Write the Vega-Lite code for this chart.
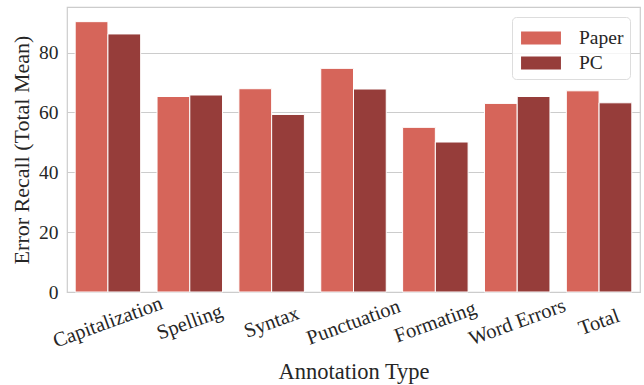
{
  "$schema": "https://vega.github.io/schema/vega-lite/v6.json",
  "width": 573,
  "height": 285,
  "autosize": {"type": "none"},
  "padding": {"left": 67, "top": 7, "right": 4, "bottom": 93},
  "background": "white",
  "config": {
    "font": "Liberation Serif",
    "view": {"stroke": "#cccccc", "strokeWidth": 1.2},
    "axis": {"labelColor": "#262626", "titleColor": "#262626", "titleFontWeight": "normal"}
  },
  "data": {
    "values": [
      {"type": "Capitalization", "medium": "Paper", "value": 90.3},
      {"type": "Capitalization", "medium": "PC", "value": 86.2},
      {"type": "Spelling", "medium": "Paper", "value": 65.3},
      {"type": "Spelling", "medium": "PC", "value": 65.8},
      {"type": "Syntax", "medium": "Paper", "value": 67.9},
      {"type": "Syntax", "medium": "PC", "value": 59.3},
      {"type": "Punctuation", "medium": "Paper", "value": 74.7},
      {"type": "Punctuation", "medium": "PC", "value": 67.8},
      {"type": "Formating", "medium": "Paper", "value": 55.0},
      {"type": "Formating", "medium": "PC", "value": 50.1},
      {"type": "Word Errors", "medium": "Paper", "value": 63.0},
      {"type": "Word Errors", "medium": "PC", "value": 65.3},
      {"type": "Total", "medium": "Paper", "value": 67.2},
      {"type": "Total", "medium": "PC", "value": 63.2}
    ]
  },
  "mark": {"type": "bar", "stroke": "white", "strokeWidth": 1},
  "encoding": {
    "x": {
      "field": "type",
      "type": "nominal",
      "sort": null,
      "scale": {"paddingInner": 0.2, "paddingOuter": 0.1},
      "axis": {
        "title": "Annotation Type",
        "titleFontSize": 22.5,
        "titlePadding": 9,
        "labelFontSize": 20.5,
        "labelAngle": -20,
        "labelAlign": "center",
        "labelBaseline": "middle",
        "labelPadding": 30,
        "ticks": false,
        "domain": false,
        "grid": false
      }
    },
    "xOffset": {"field": "medium", "type": "nominal", "sort": ["Paper", "PC"], "scale": {"paddingInner": 0, "paddingOuter": 0}},
    "y": {
      "field": "value",
      "type": "quantitative",
      "scale": {"domain": [0, 95.2], "nice": false},
      "axis": {
        "title": "Error Recall (Total Mean)",
        "titleFontSize": 22,
        "titlePadding": 5,
        "labelFontSize": 19.5,
        "values": [0, 20, 40, 60, 80],
        "ticks": false,
        "domain": false,
        "labelPadding": 9,
        "gridColor": "#cccccc",
        "gridWidth": 1.2
      }
    },
    "color": {
      "field": "medium",
      "type": "nominal",
      "sort": ["Paper", "PC"],
      "scale": {"domain": ["Paper", "PC"], "range": ["#d6655a", "#963d3a"]},
      "legend": {
        "title": null,
        "orient": "top-right",
        "offset": 10,
        "labelFontSize": 19.5,
        "labelColor": "#262626",
        "symbolType": "M-1.33,-0.44H1.33V0.44H-1.33Z",
        "symbolSize": 900,
        "symbolOffset": 8,
        "symbolStrokeWidth": 0,
        "symbolOpacity": 1,
        "labelOffset": 23,
        "rowPadding": 0,
        "padding": 6,
        "fillColor": "rgba(255,255,255,0.8)",
        "strokeColor": "#dddddd",
        "cornerRadius": 4
      }
    }
  }
}
